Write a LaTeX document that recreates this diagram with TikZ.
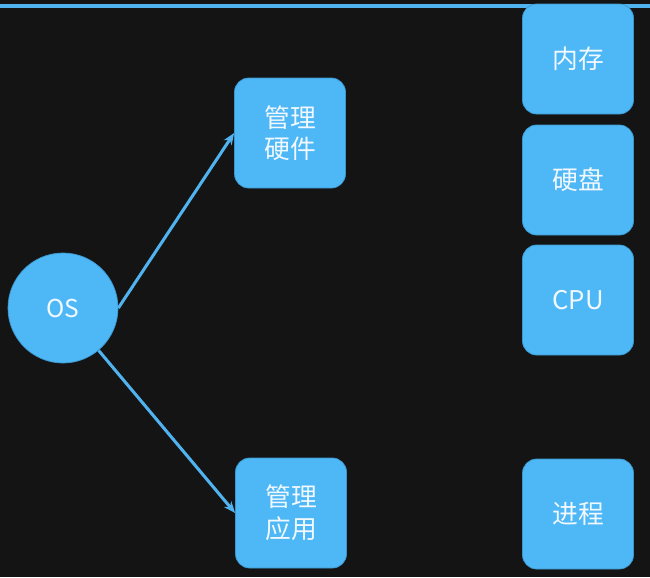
\documentclass[tikz,border=0pt]{standalone}
\usepackage{fontspec}
\setmainfont{Noto Sans CJK SC}
\usepackage{tikz}
\usetikzlibrary{arrows.meta, positioning}
\definecolor{myblue}{RGB}{77,184,245}
\definecolor{myedge}{RGB}{60,150,205}
\definecolor{myline}{RGB}{80,178,238}
\definecolor{myboard}{RGB}{20,20,20}
\definecolor{mytext}{RGB}{242,248,255}
\tikzset{
  box/.style={rectangle, fill=myblue, draw=myedge, line width=0.6pt,
    minimum width=3.33cm, minimum height=3.3cm, rounded corners=12pt,
    text=mytext, align=center, font=\fontsize{22}{27}\selectfont},
  oscircle/.style={circle, fill=myblue, draw=myedge, line width=0.6pt,
    minimum size=3.3cm, text=mytext, font=\fontsize{21}{26}\selectfont},
  arrow/.style={-{Stealth[length=10pt, width=8pt]}, line width=2.6pt, color=myline}
}
\begin{document}
\begin{tikzpicture}[x=0.03cm, y=-0.03cm]
  % board
  \fill[myboard] (0,0) rectangle (650,577);
  \useasboundingbox (0,0) rectangle (650,577);
  \draw[myline, line width=3pt] (0,6) -- (650,6);

  % OS and what it manages
  \node[oscircle] (os) at (63,308) {OS};
  \node[box] (hw) at (290,133) {管理\\硬件};
  \node[box] (app) at (291,513) {管理\\应用};

  % hardware / resources
  \node[box] (mem) at (578,59) {内存};
  \node[box] (disk) at (578,180) {硬盘};
  \node[box] (cpu) at (578,300) {CPU};
  \node[box] (proc) at (578,514) {进程};

  % arrows
  \draw[arrow] (os.east) -- (hw.west);
  \draw[arrow] (os) -- (app.west);
\end{tikzpicture}
\end{document}
